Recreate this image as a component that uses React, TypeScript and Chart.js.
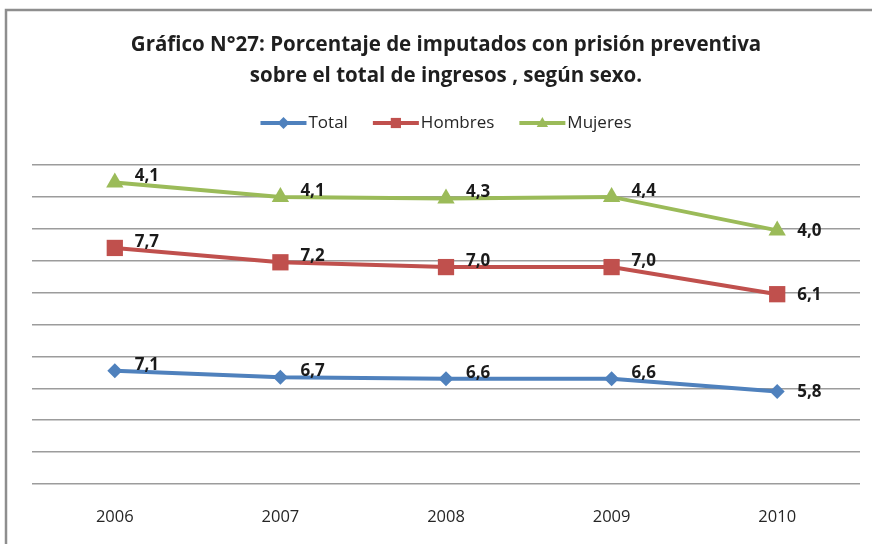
import React, { useEffect, useRef } from "react";
import { Chart, registerables } from "chart.js";

Chart.register(...registerables);

const categories = ["2006", "2007", "2008", "2009", "2010"];
const totalValues = [7.1, 6.7, 6.6, 6.6, 5.8];
const hombresValues = [7.7, 7.2, 7.0, 7.0, 6.1];
const mujeresValues = [4.1, 4.1, 4.3, 4.4, 4.0];
const seriesNames = ["Total", "Hombres", "Mujeres"];
const seriesColors = ["#4F81BD", "#C0504D", "#9BBB59"];
const seriesMarkers = ["rectRot", "rect", "triangle"];
const titleLines = [
  "Gráfico N°27: Porcentaje de imputados con prisión preventiva",
  "sobre el total de ingresos , según sexo.",
];
const yMax = 20;
const yStep = 2;

const FONT = "'Open Sans', Lato, sans-serif";

function drawMarker(ctx: CanvasRenderingContext2D, kind: string, x: number, y: number, s: number) {
  ctx.beginPath();
  if (kind === "rectRot") {
    ctx.moveTo(x, y - s);
    ctx.lineTo(x + s, y);
    ctx.lineTo(x, y + s);
    ctx.lineTo(x - s, y);
  } else if (kind === "rect") {
    ctx.rect(x - s * 0.85, y - s * 0.85, s * 1.7, s * 1.7);
  } else {
    ctx.moveTo(x, y - s);
    ctx.lineTo(x + s * 0.95, y + s * 0.65);
    ctx.lineTo(x - s * 0.95, y + s * 0.65);
  }
  ctx.closePath();
  ctx.fill();
}

const framePlugin = {
  id: "frame",
  beforeDraw(chart: any) {
    const ctx = chart.ctx as CanvasRenderingContext2D;
    ctx.save();
    ctx.fillStyle = "#ffffff";
    ctx.fillRect(0, 0, chart.width, chart.height);
    ctx.strokeStyle = "#8e8e8e";
    ctx.lineWidth = 2.5;
    ctx.beginPath();
    ctx.moveTo(6, chart.height);
    ctx.lineTo(6, 10);
    ctx.lineTo(chart.width, 10);
    ctx.stroke();
    ctx.restore();
  },
};

const legendPlugin = {
  id: "customLegend",
  afterDraw(chart: any) {
    const ctx = chart.ctx as CanvasRenderingContext2D;
    ctx.save();
    ctx.font = `17px ${FONT}`;
    const iconW = 46;
    const gap = 2;
    const itemGap = 25;
    const widths = seriesNames.map((n) => ctx.measureText(n).width);
    const total = widths.reduce((a, w) => a + iconW + gap + w, 0) + itemGap * (seriesNames.length - 1);
    let x = 446 - total / 2;
    const y = 123;
    seriesNames.forEach((name, i) => {
      ctx.strokeStyle = seriesColors[i];
      ctx.fillStyle = seriesColors[i];
      ctx.lineWidth = 4;
      ctx.beginPath();
      ctx.moveTo(x, y);
      ctx.lineTo(x + iconW, y);
      ctx.stroke();
      drawMarker(ctx, seriesMarkers[i], x + iconW / 2, y, 6);
      ctx.fillStyle = "#262626";
      ctx.textAlign = "left";
      ctx.textBaseline = "middle";
      ctx.fillText(name, x + iconW + gap, y);
      x += iconW + gap + widths[i] + itemGap;
    });
    ctx.restore();
  },
};

const labelPlugin = {
  id: "valueLabels",
  afterDatasetsDraw(chart: any) {
    const ctx = chart.ctx as CanvasRenderingContext2D;
    ctx.save();
    ctx.font = `bold 17px ${FONT}`;
    ctx.fillStyle = "#1a1a1a";
    ctx.textAlign = "left";
    ctx.textBaseline = "middle";
    chart.data.datasets.forEach((ds: any, di: number) => {
      const meta = chart.getDatasetMeta(di);
      meta.data.forEach((pt: any, i: number) => {
        const v = ds.data[i] as number;
        const dy = i === ds.data.length - 1 ? 1 : -6;
        ctx.fillText(v.toFixed(1).replace(".", ","), pt.x + 20, pt.y + dy);
      });
    });
    ctx.restore();
  },
};

export default function App() {
  const ref = useRef<HTMLCanvasElement | null>(null);
  useEffect(() => {
    if (!ref.current) return;
    const valuesList = [totalValues, hombresValues, mujeresValues];
    const chart = new Chart(ref.current, {
      type: "line",
      data: {
        labels: categories,
        datasets: seriesNames.map((name, i) => ({
          label: name,
          data: valuesList[i],
          borderColor: seriesColors[i],
          backgroundColor: seriesColors[i],
          pointBackgroundColor: seriesColors[i],
          pointBorderWidth: 0,
          pointStyle: seriesMarkers[i] as any,
          pointRadius: i === 0 ? 7.5 : i === 1 ? 11.5 : 10,
          borderWidth: 4,
          tension: 0,
          fill: false,
        })),
      },
      options: {
        responsive: false,
        animation: false,
        devicePixelRatio: 1,
        clip: false as any,
        layout: { padding: { left: 32, right: 12, top: 0, bottom: 0 } },
        plugins: {
          legend: { display: false },
          tooltip: { enabled: false },
          title: {
            display: true,
            text: titleLines,
            color: "#1f1f1f",
            font: { family: FONT, size: 20.5, weight: "bold", lineHeight: 31 / 20.5 },
            padding: { top: 30, bottom: 73 },
          },
        },
        scales: {
          x: {
            offset: true,
            grid: { display: false, drawTicks: false },
            border: { display: false },
            ticks: { color: "#262626", font: { family: FONT, size: 16.5 }, padding: 23 },
            afterFit: (s: any) => {
              s.height = 60;
            },
          },
          y: {
            stacked: true,
            min: 0,
            max: yMax,
            ticks: { display: false, stepSize: yStep },
            grid: { color: "#9c9c9c", lineWidth: 1.5, drawTicks: false },
            border: { display: false },
            afterFit: (s: any) => {
              s.width = 0;
            },
          },
        },
      },
      plugins: [framePlugin, legendPlugin, labelPlugin],
    });
    return () => chart.destroy();
  }, []);
  return (
    <div style={{ position: "fixed", left: 0, top: 0, width: 872, height: 544 }}>
      <canvas ref={ref} width={872} height={544} style={{ display: "block" }} />
    </div>
  );
}
